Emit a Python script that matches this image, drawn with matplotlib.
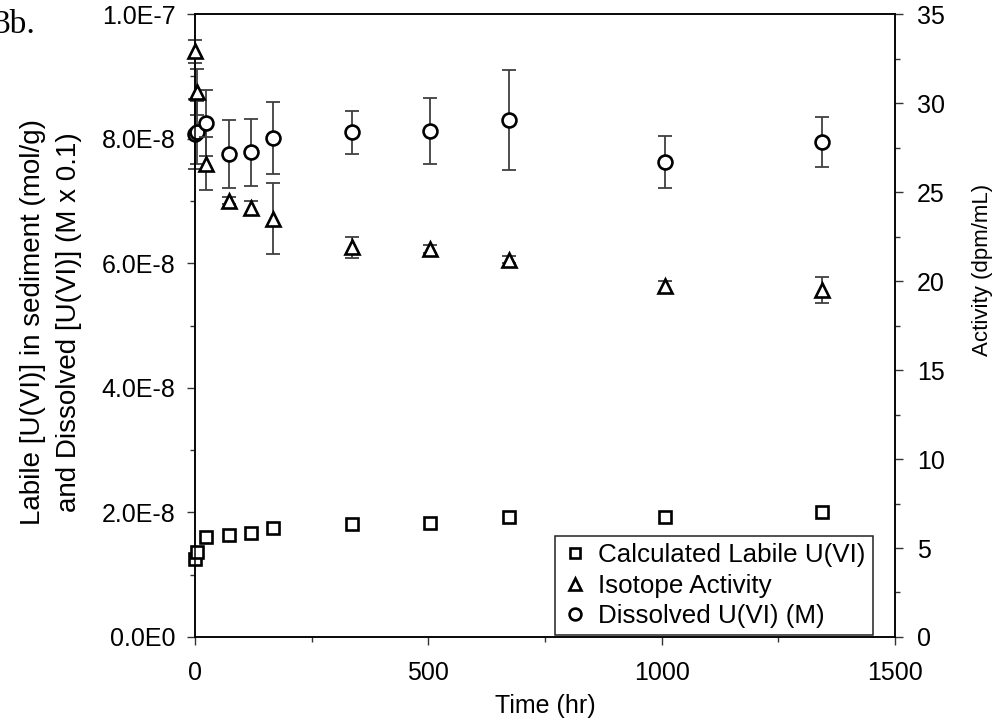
import matplotlib
matplotlib.use('Agg')
import matplotlib.pyplot as plt
from matplotlib.ticker import MultipleLocator, FixedLocator

plt.rcParams['font.family'] = ['Liberation Sans', 'DejaVu Sans']
plt.rcParams['font.size'] = 18

# time (hr)
time_hr = [1, 4, 24, 72, 120, 168, 336, 504, 672, 1008, 1344]

# calculated labile U(VI), mol/g
labile = [1.26e-8, 1.36e-8, 1.61e-8, 1.64e-8, 1.67e-8, 1.75e-8,
          1.81e-8, 1.83e-8, 1.92e-8, 1.93e-8, 2.00e-8]

# isotope activity (dpm/mL) and its error
activity = [32.9, 30.6, 26.6, 24.5, 24.1, 23.5, 21.9, 21.8, 21.2, 19.7, 19.5]
activity_err = [0.65, 1.3, 1.5, 0.2, 0.4, 2.0, 0.6, 0.2, 0.2, 0.3, 0.75]

# dissolved U(VI) (M x 0.1) and its error
dissolved = [8.08e-8, 8.10e-8, 8.25e-8, 7.75e-8, 7.78e-8, 8.01e-8,
             8.10e-8, 8.13e-8, 8.30e-8, 7.63e-8, 7.95e-8]
dissolved_err = [0.56e-8, 0.5e-8, 0.53e-8, 0.55e-8, 0.54e-8, 0.58e-8,
                 0.34e-8, 0.53e-8, 0.80e-8, 0.42e-8, 0.40e-8]

left_ticks = [0, 2e-8, 4e-8, 6e-8, 8e-8, 1e-7]
left_ticklabels = ['0.0E0', '2.0E-8', '4.0E-8', '6.0E-8', '8.0E-8', '1.0E-7']

fig = plt.figure(figsize=(9.97, 7.27), dpi=100)
ax = fig.add_axes([0.1956, 0.1238, 0.7021, 0.8569])
ax2 = ax.twinx()

err_kw = dict(fmt='none', ecolor='#404040', elinewidth=1.3, capsize=5, capthick=1.3)
mk_kw = dict(linestyle='none', markerfacecolor='white', markeredgecolor='black',
             markeredgewidth=1.9, clip_on=False)

ax.errorbar(time_hr, dissolved, yerr=dissolved_err, clip_on=False, **err_kw)
ax2.errorbar(time_hr, activity, yerr=activity_err, clip_on=False, **err_kw)

h_sq, = ax.plot(time_hr, labile, marker='s', markersize=8.5, zorder=3, **mk_kw)
h_ci, = ax.plot(time_hr, dissolved, marker='o', markersize=10, zorder=3, **mk_kw)
h_tr, = ax2.plot(time_hr, activity, marker='^', markersize=9.5, zorder=3, **mk_kw)

ax.set_xlim(0, 1500)
ax.set_ylim(0, 1e-7)
ax2.set_ylim(0, 35)

ax.xaxis.set_major_locator(MultipleLocator(500))
ax.xaxis.set_minor_locator(MultipleLocator(250))
ax.yaxis.set_major_locator(FixedLocator(left_ticks))
ax.set_yticklabels(left_ticklabels)
ax.yaxis.set_minor_locator(MultipleLocator(1e-8))
ax2.yaxis.set_major_locator(MultipleLocator(5))
ax2.yaxis.set_minor_locator(MultipleLocator(2.5))

for a in (ax, ax2):
    a.tick_params(which='major', direction='out', length=6, width=1, color='#333333')
    a.tick_params(which='minor', direction='out', length=3.5, width=1, color='#333333')
    for s in a.spines.values():
        s.set_linewidth(1.1)
ax.tick_params(axis='y', which='major', pad=8)
ax.tick_params(axis='x', which='major', pad=11)
ax2.tick_params(axis='y', which='major', pad=10)

ax.set_xlabel('Time (hr)', labelpad=7)
ax.set_ylabel('Labile [U(VI)] in sediment (mol/g)\nand Dissolved [U(VI)] (M x 0.1)',
              multialignment='center', linespacing=1.5, fontsize=20)
ax.yaxis.set_label_coords(-0.161, 0.505)
ax2.set_ylabel('Activity (dpm/mL)', fontsize=16)
ax2.yaxis.set_label_coords(1.11, 0.59)

leg = ax2.legend([h_sq, h_tr, h_ci],
                 ['Calculated Labile U(VI)', 'Isotope Activity', 'Dissolved U(VI) (M)'],
                 loc='lower right', bbox_to_anchor=(0.9686, 0.003), borderaxespad=0,
                 fancybox=False, framealpha=1, edgecolor='#222222', markerscale=0.85,
                 handlelength=1.0, handletextpad=0.4, borderpad=0.28, labelspacing=0.24,
                 fontsize=18.7)
leg.get_frame().set_linewidth(1.1)

fig.text(-0.007, 0.955, '3b.', family='Liberation Serif', fontsize=24)

fig.savefig('out.png', dpi=100)
